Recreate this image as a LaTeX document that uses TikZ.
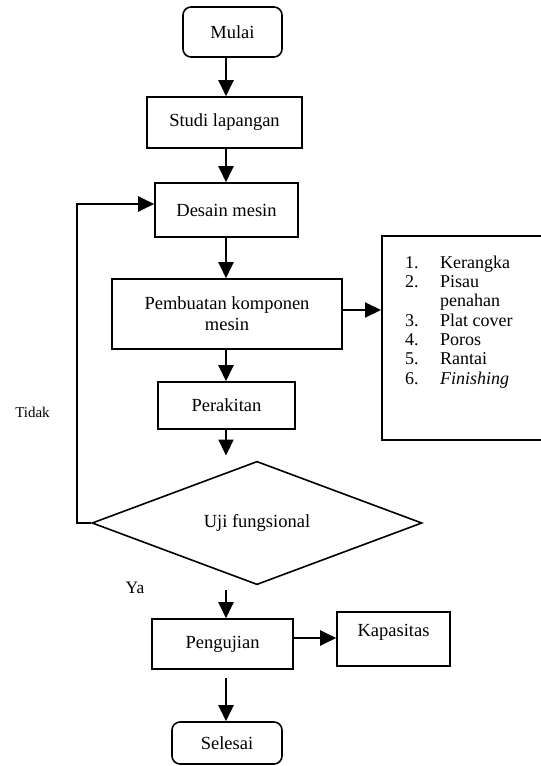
\documentclass[tikz,border=0pt]{standalone}
\usepackage{fontspec}
\setmainfont{Liberation Serif}
\usetikzlibrary{arrows.meta,shapes.geometric,calc}
\tikzset{
  box/.style={draw, line width=1.6pt, inner sep=0pt, align=center,
    font=\fontsize{18.5}{21}\selectfont},
  rbox/.style={box, rounded corners=8pt},
  arr/.style={line width=2.2pt, -{Triangle[length=16pt,width=15pt]}},
  lbl/.style={inner sep=0pt},
}
\begin{document}
\begin{tikzpicture}[x=1pt,y=-1pt]
\useasboundingbox (0,0) rectangle (541,766);
\coordinate (ax) at (226,0);
% nodes
\node[rbox, minimum width=99pt, minimum height=50pt] (mulai) at (232.5,32) {Mulai};
\node[box, minimum width=155pt, minimum height=51pt] (studi) at (224.5,122.5) {Studi lapangan};
\node[box, minimum width=143pt, minimum height=54pt] (desain) at (226.5,210) {Desain mesin};
\node[box, minimum width=230pt, minimum height=70pt] (pemb) at (227,314) {Pembuatan komponen\\mesin};
\node[box, minimum width=137pt, minimum height=47pt] (perakitan) at (226.5,405.5) {Perakitan};
\node[draw, line width=1.6pt, diamond, inner sep=0pt, minimum width=330pt, minimum height=91pt,
  font=\fontsize{18.5}{21}\selectfont] (uji) at (257,523) {Uji fungsional};
\node[box, minimum width=141pt, minimum height=50pt] (peng) at (222.5,644) {Pengujian};
\node[box, minimum width=113pt, minimum height=54pt, text depth=17pt] (kap) at (393.5,639) {Kapasitas};
\node[rbox, minimum width=110pt, minimum height=42pt] (selesai) at (227,743) {Selesai};
% list box
\node[draw, line width=1.6pt, inner sep=0pt, minimum width=164pt, minimum height=204pt, anchor=north west] (listbox) at (381,235) {};
\node[lbl, anchor=north west, font=\fontsize{18}{19.3}\selectfont] (listtext) at (405,254.5) {%
\begin{tabular}{@{}p{35pt}@{}l@{}}
1. & Kerangka\\
2. & Pisau\\
   & penahan\\
3. & Plat cover\\
4. & Poros\\
5. & Rantai\\
6. & \textit{Finishing}
\end{tabular}};
% labels
\node[lbl, font=\fontsize{15}{17}\selectfont] (tidak) at (32.5,412) {Tidak};
\node[lbl, font=\fontsize{17.5}{20}\selectfont] (ya) at (135,588) {Ya};
% connectors
\coordinate (loop) at (77,204);
\coordinate (ay1) at (0,310);
\coordinate (ay2) at (0,638);
\draw[arr] (mulai.south -| ax) -- (studi.north -| ax);
\draw[arr] (studi.south -| ax) -- (desain.north -| ax);
\draw[arr] (desain.south -| ax) -- (pemb.north -| ax);
\draw[arr] (pemb.south -| ax) -- (perakitan.north -| ax);
\draw[arr, shorten >=5pt] (perakitan.south -| ax) -- (ax |- uji.north);
\draw[arr, shorten <=4pt] (ax |- uji.south) -- (peng.north -| ax);
\draw[arr, shorten <=8pt] (peng.south -| ax) -- (selesai.north -| ax);
\draw[arr] (pemb.east |- ay1) -- (listbox.west |- ay1);
\draw[arr] (peng.east |- ay2) -- (kap.west |- ay2);
\draw[arr] (uji.west) -| (loop) -- (desain.west |- loop);
\end{tikzpicture}
\end{document}
